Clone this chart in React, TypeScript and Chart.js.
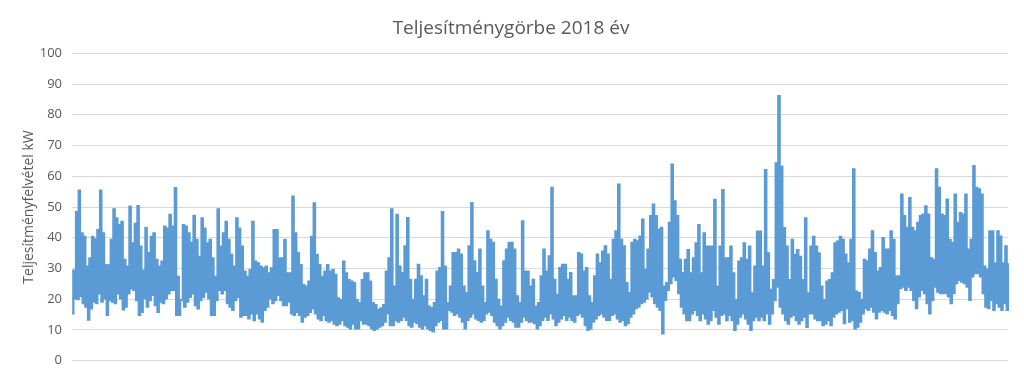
import React, { useEffect, useRef } from "react";
import { Chart, registerables } from "chart.js";

Chart.register(...registerables);

const chartTitle = "Teljesítménygörbe 2018 év";
const yAxisTitle = "Teljesítményfelvétel kW";
const yTicks = [0, 10, 20, 30, 40, 50, 60, 70, 80, 90, 100];

// Upper envelope (kW) of the load curve, read column by column from left to right
const peakKW = [
  29.3, 48.3, 55.3, 41.4, 40.3, 30.6, 33.3, 40.3, 39.5, 42.5,
  55.3, 41.4, 31.1, 31.0, 39.3, 49.2, 46.3, 44.1, 45.2, 32.8,
  30.6, 50.1, 38.2, 44.5, 50.3, 37.1, 29.3, 43.1, 35.0, 40.3,
  41.4, 32.8, 30.6, 32.2, 43.6, 43.0, 47.4, 43.6, 56.1, 27.3,
  19.7, 44.1, 43.6, 41.4, 38.4, 47.1, 39.3, 33.8, 46.3, 43.0,
  38.2, 39.3, 33.3, 27.3, 49.2, 37.1, 41.4, 45.2, 39.3, 34.4,
  30.6, 46.3, 43.0, 37.1, 29.0, 27.3, 29.5, 45.2, 32.2, 31.7,
  30.6, 30.0, 30.6, 28.4, 30.0, 42.5, 42.5, 33.3, 33.3, 39.3,
  28.4, 28.4, 53.4, 41.4, 35.0, 31.1, 24.6, 24.1, 25.7, 40.3,
  51.2, 34.4, 31.1, 27.3, 29.0, 31.1, 29.0, 29.5, 27.9, 20.3,
  19.7, 32.2, 28.4, 26.2, 25.7, 25.2, 19.7, 18.7, 26.2, 28.4,
  28.4, 25.7, 18.7, 18.1, 16.5, 17.0, 18.1, 29.0, 33.3, 49.2,
  24.1, 47.4, 30.6,
  28.5, 37.2, 46.4, 26.3, 19.8, 26.3, 31.2, 27.4, 20.9, 26.3,
  17.6, 17.1, 18.7, 29.0, 30.1, 48.3, 30.6, 18.7, 24.1, 35.0,
  35.0, 36.1, 34.5, 24.1, 22.0, 37.2, 51.3, 32.3, 28.5, 36.1,
  24.1, 18.7, 42.1, 39.3, 38.3, 26.3, 19.8, 17.6, 32.3, 36.1,
  38.3, 38.3, 36.1, 20.9, 18.7, 45.3, 29.0, 29.0, 24.1,
  26.3, 17.6, 18.7, 27.4, 36.1, 29.0, 33.9, 56.2, 26.3, 21.4,
  30.1, 31.2, 31.2, 26.3, 28.5, 20.9, 20.9, 35.0, 34.5, 29.0,
  30.1, 20.9, 18.7, 27.4, 34.5, 31.7, 35.5, 37.2, 34.5, 26.3,
  39.3, 42.1, 57.3, 39.3, 37.2, 25.2, 22.0, 38.3, 39.3, 38.8,
  40.4, 45.9, 29.6, 36.1, 47.0, 50.8, 47.0, 42.6, 43.2, 24.1,
  25.2, 44.8, 63.8, 51.8, 47.0, 32.8, 28.5, 32.8,
  36.0, 28.4, 33.3, 38.2, 44.1, 28.4, 41.4, 37.1, 37.1, 37.1,
  52.3, 24.1, 37.1, 55.5, 33.3, 33.3, 37.1, 28.4, 19.7, 32.2,
  33.3, 38.2, 32.8, 37.1, 21.9, 30.6, 42.0, 42.0, 30.6, 62.0,
  34.9, 23.0, 26.2, 64.2, 86.1, 63.1, 43.1, 37.1, 26.2, 39.3,
  34.4, 36.0, 33.8, 26.2, 46.3, 21.9, 37.1, 40.3, 37.1, 34.9,
  24.1, 19.7, 25.7, 26.2, 28.4, 38.2, 38.7, 40.3,
  39.3, 34.5, 31.7, 39.3, 62.2, 22.5, 22.0, 19.8, 32.8, 32.3,
  36.1, 42.1, 35.0, 29.0, 30.1, 39.9, 36.1, 36.1, 42.1, 39.3,
  27.4, 27.4, 54.0, 47.0, 43.2, 52.9, 43.2, 42.1, 44.8, 47.0,
  47.5, 50.2, 47.5, 33.4, 32.8, 62.2, 56.2, 47.5, 47.0, 52.4,
  39.3, 38.3, 54.0, 44.8, 48.0, 47.5, 54.0, 36.1, 39.3, 63.3,
  56.2, 55.7, 54.0, 30.6, 29.6, 42.1, 42.1, 31.7, 42.1, 40.4,
  31.7, 37.2, 31.7,
];

// Lower envelope (kW), same columns
const troughKW = [
  15.4, 20.3, 20.0, 21.0, 18.7, 17.6, 13.4, 17.0, 19.2, 18.7,
  21.9, 19.2, 20.3, 14.9, 19.7, 19.2, 18.7, 21.9, 20.3, 16.7,
  17.6, 21.9, 23.5, 23.0, 19.7, 14.9, 15.9, 20.3, 17.6, 19.7,
  21.4, 18.1, 15.9, 19.2, 18.7, 20.3, 21.9, 23.0, 23.0, 14.9,
  14.9, 19.7, 17.6, 19.2, 20.8, 21.9, 18.1, 17.0, 19.7, 20.8,
  22.5, 20.3, 14.9, 14.9, 19.7, 23.0, 21.9, 23.0, 18.7, 17.6,
  16.5, 19.7, 20.8, 14.3, 14.9, 14.9, 13.8, 15.4, 13.2, 15.4,
  13.8, 12.7, 16.5, 17.6, 20.3, 18.7, 19.7, 21.4, 19.7, 18.1,
  18.1, 19.2, 15.4, 14.9, 15.9, 14.9, 12.7, 14.3, 14.9, 15.9,
  17.0, 15.4, 13.8, 13.2, 14.9, 13.2, 12.7, 13.2, 12.1, 11.6,
  12.1, 13.2, 11.6, 11.1, 10.5, 12.1, 10.5, 10.5, 13.2, 12.1,
  12.1, 11.6, 10.5, 10.0, 10.5, 11.1, 11.6, 12.7, 15.4, 11.6,
  11.6, 13.2, 12.7,
  13.3, 14.3, 13.3, 11.6, 11.1, 12.7, 12.2, 11.1, 10.5, 11.6,
  10.5, 10.0, 9.5, 11.6, 12.7, 13.3, 10.5, 10.5, 16.5, 16.0,
  14.9, 15.4, 14.3, 12.7, 10.5, 13.3, 14.3, 15.4, 13.8, 13.3,
  12.7, 13.3, 15.4, 16.0, 14.9, 12.7, 11.6, 10.5, 11.6, 12.7,
  14.3, 13.3, 12.7, 11.1, 11.1, 12.7, 14.3, 13.3, 12.7,
  12.7, 12.2, 10.5, 11.6, 13.3, 14.3, 13.3, 15.4, 13.8, 11.6,
  12.7, 13.8, 14.9, 13.3, 14.3, 13.3, 12.7, 14.9, 15.4, 14.3,
  11.6, 10.0, 10.5, 12.7, 13.8, 14.9, 15.4, 14.3, 13.3, 13.3,
  14.9, 15.4, 13.8, 12.7, 13.3, 11.6, 12.2, 14.3, 15.4, 17.1,
  17.6, 18.7, 19.2, 20.3, 22.5, 20.9, 18.7, 17.6, 16.5, 8.9,
  19.8, 23.0, 25.2, 27.4, 26.3, 22.0, 17.6, 15.4,
  13.2, 13.2, 15.4, 16.5, 14.9, 13.2, 15.4, 13.8, 12.1, 13.2,
  16.5, 14.3, 12.1, 14.9, 15.4, 13.2, 14.9, 13.2, 10.0, 12.1,
  14.3, 15.4, 13.8, 12.1, 10.0, 13.2, 14.3, 13.2, 14.3, 13.2,
  15.4, 12.1, 15.4, 19.7, 24.1, 17.6, 15.4, 13.2, 12.1, 14.3,
  14.9, 13.2, 12.1, 13.2, 14.3, 11.0, 15.4, 15.4, 13.8, 13.2,
  13.2, 11.6, 12.1, 13.2, 11.6, 14.3, 15.4, 16.0,
  16.5, 12.2, 17.1, 12.7, 13.3, 10.5, 11.1, 12.7, 15.4, 17.1,
  16.5, 17.6, 16.0, 13.8, 16.0, 16.5, 16.0, 15.4, 16.5, 14.9,
  13.8, 18.7, 23.6, 24.1, 23.0, 24.1, 23.0, 19.8, 17.1, 20.9,
  23.0, 22.0, 18.7, 15.4, 19.8, 24.1, 22.5, 22.0, 22.0, 22.0,
  20.9, 18.7, 22.0, 25.2, 26.3, 25.7, 25.2, 24.1, 19.8, 27.4,
  28.5, 28.5, 27.4, 22.0, 17.6, 17.1, 19.8, 16.5, 18.7, 17.6,
  16.5, 18.7, 16.5,
];

const FONT = "'Open Sans', 'Noto Sans', sans-serif";
const TEXT = "#595959";

export default function App() {
  const ref = useRef<HTMLCanvasElement | null>(null);

  useEffect(() => {
    if (!ref.current) return;
    const series: number[] = [];
    peakKW.forEach((p, i) => {
      series.push(troughKW[i], p);
    });
    const labels = series.map((_, i) => String(i));

    const chart = new Chart(ref.current, {
      type: "line",
      data: {
        labels,
        datasets: [
          {
            data: series,
            borderColor: "#5b9bd5",
            backgroundColor: "#5b9bd5",
            borderWidth: 2.25,
            pointRadius: 0,
            stepped: true,
            fill: false,
          },
        ],
      },
      options: {
        animation: false,
        responsive: false,
        maintainAspectRatio: false,
        layout: { padding: { left: 14, right: 16, top: 0, bottom: 15.3 } },
        plugins: {
          legend: { display: false },
          tooltip: { enabled: false },
          title: {
            display: true,
            text: chartTitle,
            color: TEXT,
            font: { family: FONT, size: 19, weight: "normal" },
            padding: { top: 17.5, bottom: 13 },
          },
        },
        scales: {
          x: { display: false },
          y: {
            min: 0,
            max: 100,
            afterBuildTicks: (s: any) => {
              s.ticks = yTicks.map((v) => ({ value: v }));
            },
            afterFit: (s: any) => {
              s.width = 58;
              s.paddingTop = 0;
              s.paddingBottom = 0;
            },
            ticks: {
              color: TEXT,
              font: { family: FONT, size: 13 },
              padding: 10,
            },
            grid: { color: "#d9d9d9", drawTicks: false, lineWidth: 1 },
            border: { display: false },
            title: {
              display: true,
              text: yAxisTitle,
              color: TEXT,
              font: { family: FONT, size: 14 },
              padding: { top: 7, bottom: 0 },
            },
          },
        },
      },
    });
    return () => chart.destroy();
  }, []);

  return (
    <div style={{ position: "fixed", left: 0, top: 0, width: 1024, height: 376, background: "#fff" }}>
      <canvas ref={ref} width={1024} height={376} />
    </div>
  );
}
